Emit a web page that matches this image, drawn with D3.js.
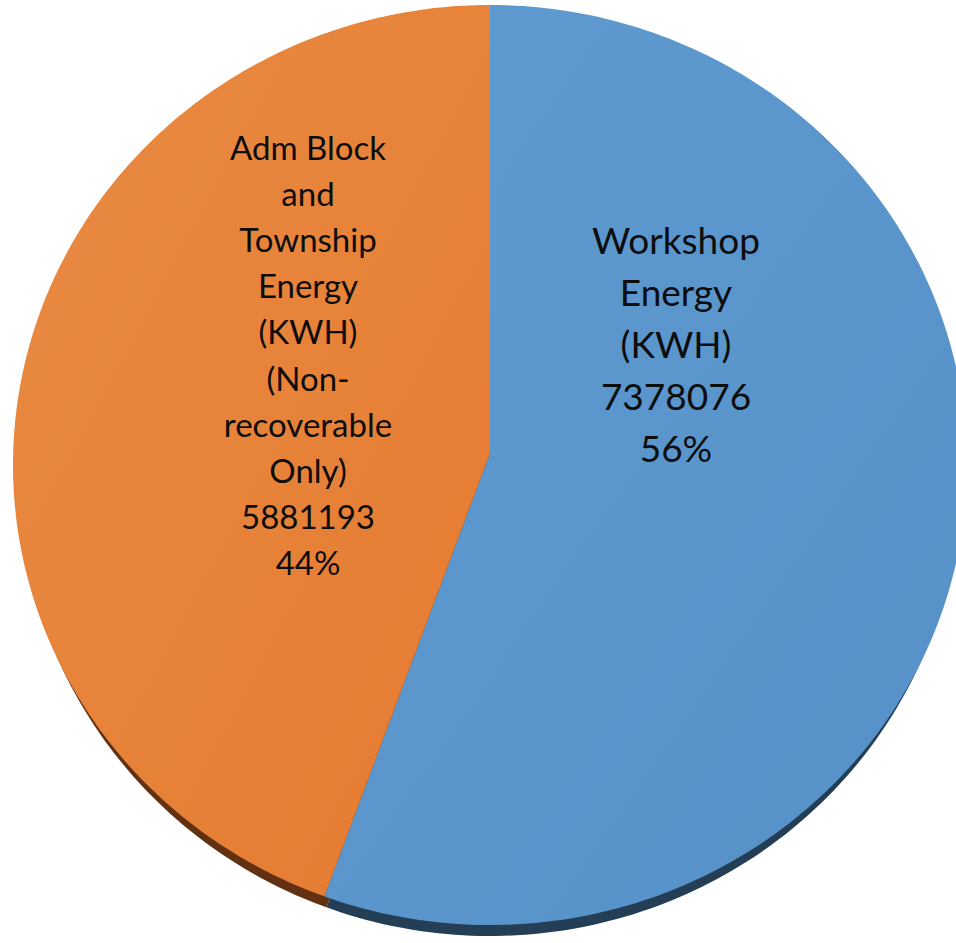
<!DOCTYPE html>
<html>
<head>
<meta charset="utf-8">
<script src="https://cdn.jsdelivr.net/npm/d3@7"></script>
<style>
  body { margin: 0; background: #fff; }
  svg { display: block; }
</style>
</head>
<body>
<div id="chart"></div>
<script>
const categories = [
  "Workshop Energy (KWH)",
  "Adm Block and Township Energy (KWH) (Non-recoverable Only)"
];
const values = [7378076, 5881193];
const percentLabels = ["56%", "44%"];

/* wrapped label lines, as in the picture */
const labelLines = [
  ["Workshop", "Energy", "(KWH)"],
  ["Adm Block", "and", "Township", "Energy", "(KWH)", "(Non-", "recoverable", "Only)"]
];

const topColors = [["#5f9bd0", "#5590c8"], ["#e98b43", "#e57a30"]];
const sideColors = ["#243e56", "#623112"];

const width = 956, height = 943;
const cx = 490, cy = 465;      // ellipse centre
const apexY = 453;             // where the slices meet (perspective)
const rx = 477, ry = 460;
const depth = 11;
const sideShrink = 6;          // bottom rim a bit narrower (perspective)

const svg = d3.select("#chart").append("svg")
  .attr("width", width)
  .attr("height", height);

const defs = svg.append("defs");
topColors.forEach((c, i) => {
  const g = defs.append("linearGradient")
    .attr("id", `grad-${i}`)
    .attr("x1", "0%").attr("y1", "0%")
    .attr("x2", "100%").attr("y2", "100%");
  g.append("stop").attr("offset", "0%").attr("stop-color", c[0]);
  g.append("stop").attr("offset", "100%").attr("stop-color", c[1]);
});

const pie = d3.pie().sort(null).value(d => d);
const arcs = pie(values);

/* slice outline on an ellipse, angles clockwise from 12 o'clock */
function slicePath(d, dy, apex, rX, rY) {
  const p = d3.path();
  p.moveTo(cx, apex + dy);
  const steps = 200;
  for (let k = 0; k <= steps; k++) {
    const a = d.startAngle + (d.endAngle - d.startAngle) * k / steps;
    p.lineTo(cx + rX * Math.sin(a), cy + dy - rY * Math.cos(a));
  }
  p.closePath();
  return p.toString();
}

// side wall: the slices shifted down, dark
svg.append("g").selectAll("path")
  .data(arcs)
  .join("path")
  .attr("d", d => slicePath(d, depth, cy, rx - sideShrink, ry))
  .attr("fill", (d, i) => sideColors[i]);

// top face
svg.append("g").selectAll("path")
  .data(arcs)
  .join("path")
  .attr("d", d => slicePath(d, 0, apexY, rx, ry))
  .attr("fill", (d, i) => `url(#grad-${i})`);

// labels
const labelPos = [
  { x: 676, y: 241, size: 37, lh: 52 },
  { x: 308, y: 148, size: 33, lh: 46.2 }
];

arcs.forEach((d, i) => {
  const lines = labelLines[i].concat([String(values[i]), percentLabels[i]]);
  const pos = labelPos[i];
  const t = svg.append("text")
    .attr("text-anchor", "middle")
    .attr("font-family", "Lato, 'Open Sans', sans-serif")
    .attr("font-size", pos.size)
    .attr("fill", "#0d0d0d");
  lines.forEach((line, j) => {
    t.append("tspan")
      .attr("x", pos.x)
      .attr("y", pos.y + j * pos.lh)
      .attr("dy", "0.35em")
      .text(line);
  });
});
</script>
</body>
</html>
